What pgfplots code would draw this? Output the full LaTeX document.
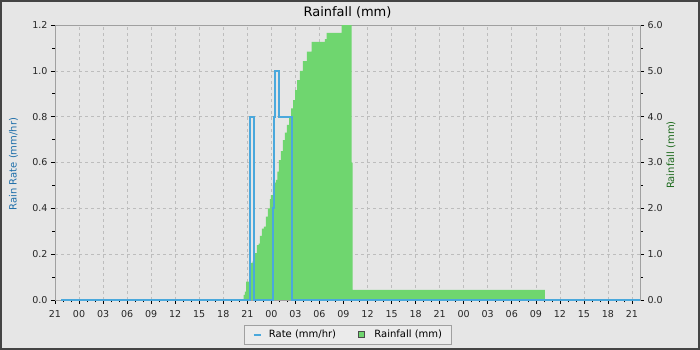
\documentclass[border=0pt]{standalone}
\usepackage{fontspec}
\setmainfont{DejaVu Sans}
\usepackage{pgfplots}
\pgfplotsset{compat=1.18}
\definecolor{bgc}{HTML}{E6E6E6}
\definecolor{brd}{HTML}{444444}
\definecolor{rfgreen}{HTML}{6FD66F}
\definecolor{rateblue}{HTML}{4AA8DC}
\definecolor{gridc}{HTML}{BDBDBD}
\definecolor{framec}{HTML}{A0A0A0}
\definecolor{lblue}{HTML}{1F6FAA}
\definecolor{lgreen}{HTML}{1E6B1E}
\definecolor{legbg}{HTML}{EBEBEB}
\pgfplotsset{
 common/.style={
   scale only axis, width=585bp, height=275bp,
   at={(55bp,50bp)}, anchor=south west,
   xmin=0, xmax=73,
   axis line style={framec, line width=0.8bp},
   tick align=outside,
   major tick length=4bp, minor tick length=2.5bp,
   every tick/.style={black, line width=0.6bp},
   tick label style={font=\fontsize{9.5bp}{11bp}\selectfont, color=black!85},
   /pgf/number format/assume math mode=true,
   y tick label style={/pgf/number format/.cd, fixed, fixed zerofill, precision=1, /tikz/.cd},
   label style={font=\fontsize{10bp}{12bp}\selectfont},
 }
}
\begin{document}
\begin{tikzpicture}
\useasboundingbox (0,0) rectangle (700bp,350bp);
\fill[brd] (0,0) rectangle (700bp,350bp);
\fill[bgc] (2bp,2bp) rectangle (698bp,348bp);
\begin{axis}[common,
  ymin=0, ymax=6, ytick distance=1, minor y tick num=1,
  ytick pos=right, yticklabel pos=right,
  xtick={0,3,...,72}, minor x tick num=2, xtick pos=bottom,
  xticklabels={21,00,03,06,09,12,15,18,21,00,03,06,09,12,15,18,21,00,03,06,09,12,15,18,21},
  x tick label style={yshift=-3bp},
  grid=major, major grid style={gridc, dash pattern=on 3bp off 3bp, line width=0.6bp},
  ylabel={Rainfall (mm)},
  ylabel style={at={(axis description cs:1.053,0.527)}, anchor=center, rotate=0, color=lgreen},
  title={Rainfall (mm)},
  title style={at={(axis description cs:0.5,1)}, anchor=base, yshift=3bp, font=\fontsize{13bp}{15bp}\selectfont},
]
\addplot[fill=rfgreen, draw=none, const plot] coordinates {
(23.55,0.11) (23.70,0.18) (23.85,0.40) (24.40,0.81) (24.65,0.84) (24.90,1.02)
(25.20,1.20) (25.40,1.23) (25.55,1.40) (25.80,1.56) (26.05,1.60) (26.30,1.82)
(26.55,2.00) (26.80,2.20) (26.95,2.29) (27.20,2.51) (27.40,2.56) (27.55,2.62)
(27.75,2.80) (27.95,3.05) (28.20,3.25) (28.45,3.49) (28.70,3.65) (28.95,3.82)
(29.20,3.99) (29.45,4.18) (29.70,4.36) (29.95,4.58) (30.20,4.80) (30.55,5.00)
(30.93,5.21) (31.43,5.42) (32.02,5.63) (33.68,5.69) (33.89,5.83) (35.76,6.00)
(37.01,3.00) (37.13,0.22) (61.12,0) (73,0)
} \closedcycle;
\end{axis}
\begin{axis}[common,
  ymin=0, ymax=1.2, ytick distance=0.2, minor y tick num=1,
  axis y line*=left, axis x line=none, clip=false,
  ylabel={Rain Rate (mm/hr)},
  ylabel style={at={(axis description cs:-0.0709,0.4945)}, anchor=center, rotate=0, color=lblue},
  legend style={at={(axis description cs:0.5,-0.0909)}, anchor=north, draw=framec, fill=legbg,
    font=\fontsize{10bp}{12bp}\selectfont, legend columns=2, inner xsep=7bp, inner ysep=3bp,
    /tikz/every even column/.append style={column sep=20bp}},
  legend cell align=left,
]
\addplot[rateblue, line width=1.9bp, line join=miter,
  legend image code/.code={\path[draw=none,fill=none] (-3bp,0bp) -- (13bp,0bp); \draw[rateblue, line width=1.8bp] (0bp,0bp) -- (7bp,0bp);}] coordinates {
(0.75,0) (24.36,0) (24.36,0.8) (24.78,0.8) (24.78,0) (27.2,0) (27.2,0.4) (27.32,0.4)
(27.32,0.8) (27.45,0.8) (27.45,1.0) (27.9,1.0) (27.9,0.8) (29.62,0.8) (29.62,0) (73,0)
};
\addlegendentry{Rate (mm/hr)}
\addlegendimage{legend image code/.code={\path[draw=none,fill=none] (0bp,0bp) -- (14bp,0bp); \draw[fill=rfgreen, draw=black!70, line width=0.6bp] (0bp,-3bp) rectangle (6bp,3bp);}}
\addlegendentry{Rainfall (mm)}
\end{axis}
\end{tikzpicture}
\end{document}
